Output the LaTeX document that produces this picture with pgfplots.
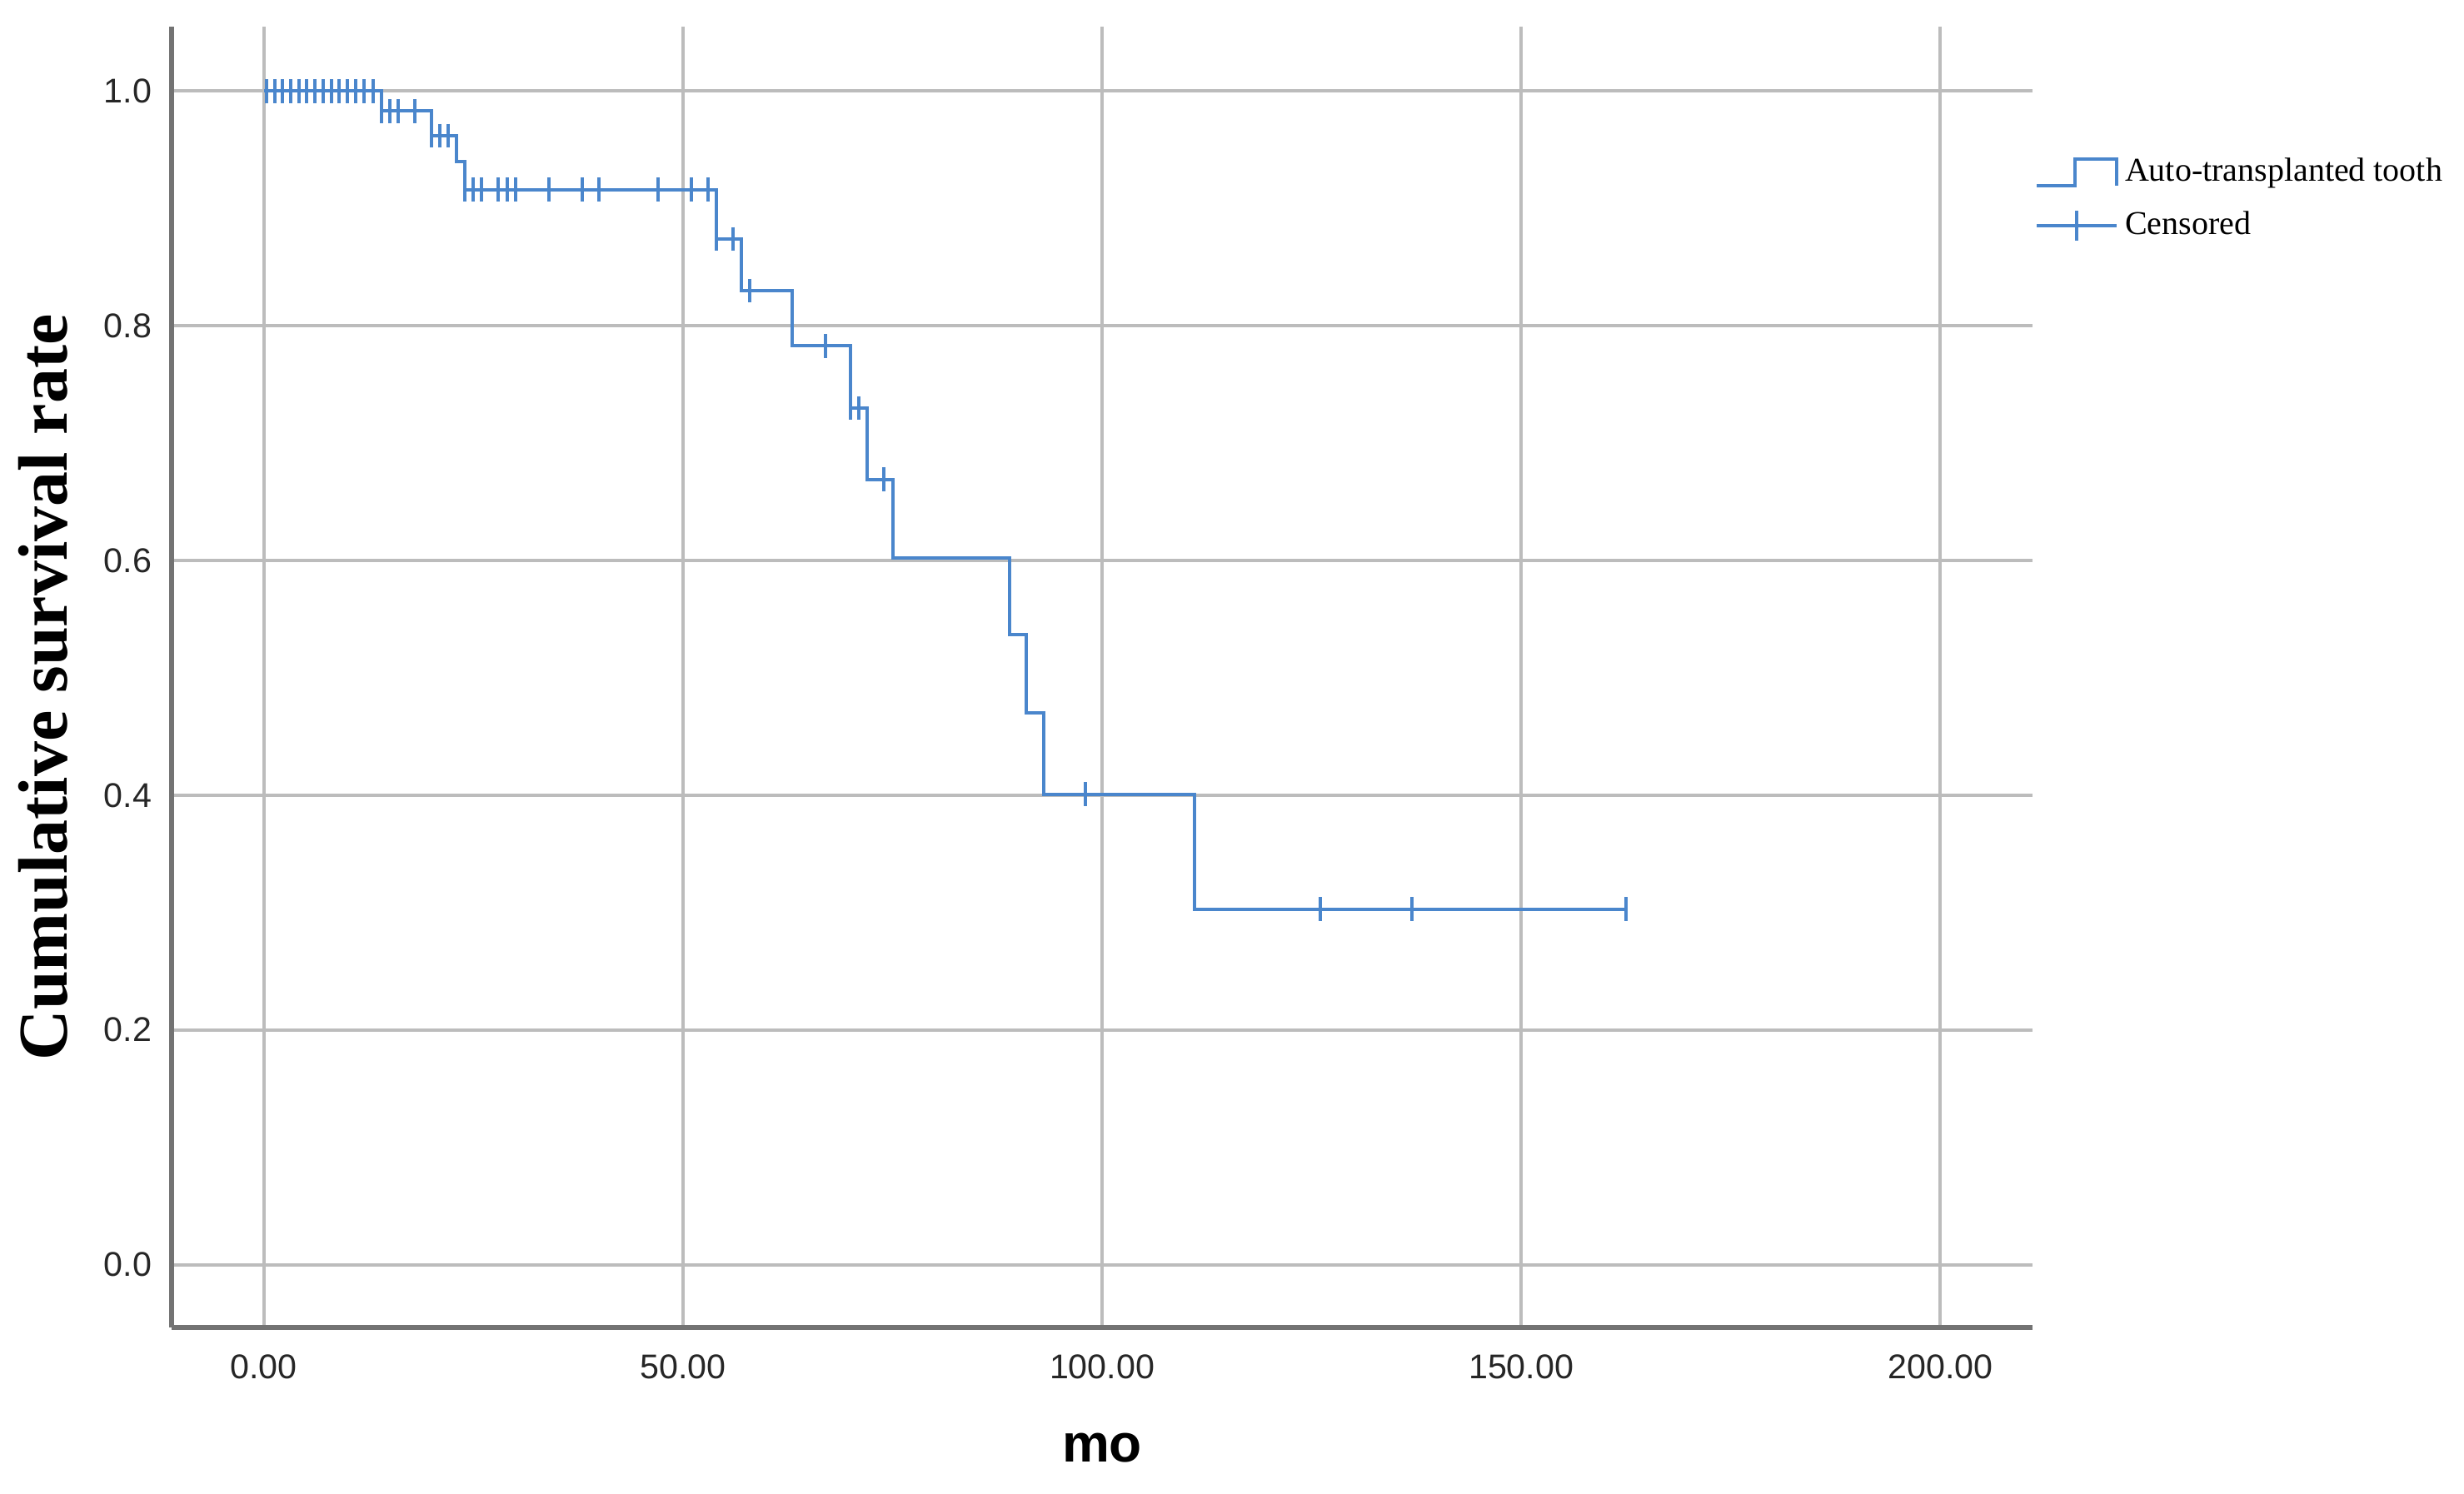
\documentclass[border=0pt]{standalone}
\usepackage{fontspec}
\setmainfont{Liberation Serif}
\setsansfont{Liberation Sans}
\usepackage{pgfplots}
\pgfplotsset{compat=1.18}
\definecolor{kmblue}{RGB}{74,134,204}
\definecolor{gridgray}{RGB}{188,188,188}
\definecolor{axgray}{RGB}{115,115,115}
\begin{document}
\begin{tikzpicture}
\useasboundingbox (-51.5pt,-50pt) rectangle (688pt,398.5pt);
\begin{axis}[
  scale only axis, width=558.5pt, height=390.5pt,
  xmin=-11, xmax=211, ymin=-0.0535, ymax=1.055,
  axis lines=left, axis line style={-, axgray, line width=1.3pt},
  xtick={0,50,100,150,200}, ytick={0,0.2,0.4,0.6,0.8,1},
  major tick length=0pt,
  grid=major, major grid style={gridgray, line width=1pt},
  /pgf/number format/assume math mode=true,
  ticklabel style={font=\sffamily\fontsize{10.3}{12}\selectfont, text=black!85},
  x tick label style={/pgf/number format/fixed, /pgf/number format/fixed zerofill, /pgf/number format/precision=2, /pgf/number format/1000 sep={}},
  y tick label style={/pgf/number format/fixed, /pgf/number format/fixed zerofill, /pgf/number format/precision=1},
  xticklabel style={anchor=center, yshift=-11.75pt},
  yticklabel style={anchor=east, xshift=-2.4pt},
  xlabel={mo},
  xlabel style={font=\sffamily\bfseries\fontsize{16}{18}\selectfont, at={(axis description cs:0.5,-0.0928)}, anchor=center},
  ylabel={Cumulative survival rate},
  ylabel style={font=\bfseries\fontsize{21}{24}\selectfont, at={(axis description cs:-0.0689,0.492)}, anchor=center},
  legend style={at={(axis description cs:1.001,0.9045)}, anchor=north west, draw=none, fill=none,
    font=\fontsize{10}{12}\selectfont, inner sep=0pt, row sep=3.5pt},
  legend cell align=left,
]
\addplot[const plot, kmblue, line width=1pt,
  legend image code/.code={\draw[kmblue, line width=1pt] (0pt,-4pt) -- (11.5pt,-4pt) -- (11.5pt,4pt) -- (24pt,4pt) -- (24pt,-4pt);}]
coordinates {
(0,1) (14,0.983) (20,0.962) (23,0.940) (24,0.916) (54,0.874) (57,0.830)
(63,0.783) (70,0.730) (72,0.669) (75.1,0.602) (89,0.537) (91,0.470)
(93,0.401) (111,0.303) (162.7,0.303)
};
\addlegendentry{Auto-transplanted tooth}
\addplot[only marks, kmblue, mark=|, mark size=3.6pt, mark options={line width=1pt},
  legend image code/.code={\draw[kmblue, line width=1pt] (0pt,0pt) -- (24pt,0pt); \draw[kmblue, line width=1pt] (12pt,-4.5pt) -- (12pt,4.5pt);}]
coordinates {
(0.3,1) (1.3,1) (2.2,1) (3.2,1) (4.2,1) (5.1,1) (6.1,1) (7.1,1) (8.1,1) (9.0,1) (10.0,1) (11.0,1) (12.0,1) (13.0,1)
(14,0.983) (15,0.983) (16,0.983) (18,0.983)
(20,0.962) (21,0.962) (22,0.962)
(24,0.916) (25,0.916) (26,0.916) (28,0.916) (29,0.916) (30,0.916) (34,0.916) (38,0.916) (40,0.916) (47,0.916) (51,0.916) (53,0.916)
(54,0.874) (56,0.874)
(58,0.830)
(67,0.783)
(70,0.730) (71,0.730)
(74,0.669)
(98,0.401)
(126,0.303) (137,0.303) (162.5,0.303)
};
\addlegendentry{Censored}
\end{axis}
\end{tikzpicture}
\end{document}
